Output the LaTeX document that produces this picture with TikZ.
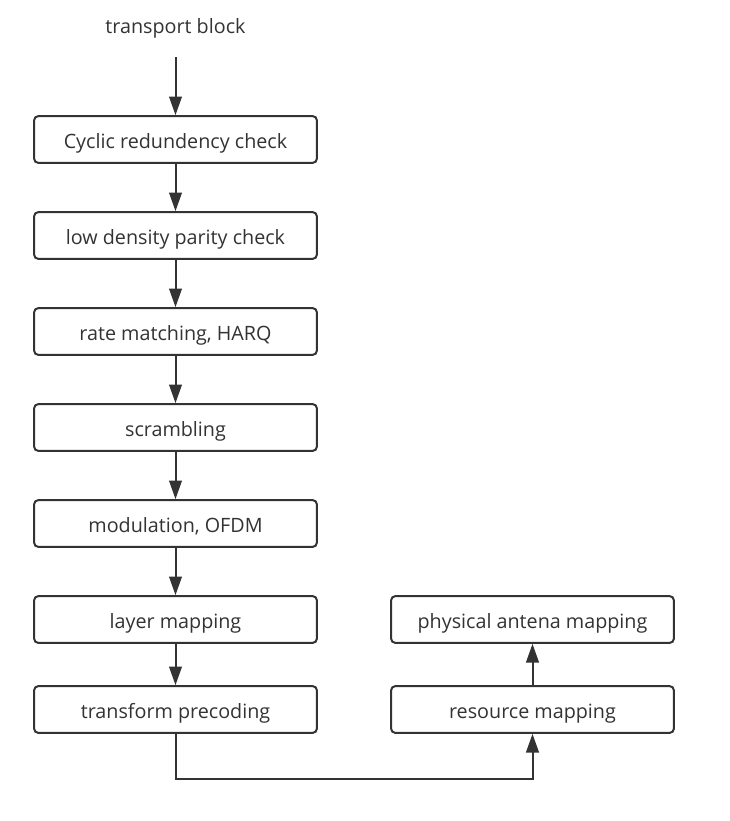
\documentclass[tikz,border=0pt]{standalone}
\usepackage{fontspec}
\setmainfont{Open Sans}
\usetikzlibrary{arrows.meta,positioning}
\definecolor{linegray}{RGB}{51,51,51}
\tikzset{
  label/.style={text=linegray, font=\fontsize{14.8}{17}\selectfont,
    text height=14pt, text depth=1.2pt},
  stage/.style={label, draw=linegray, line width=1.5pt, rounded corners=3pt, fill=white,
    minimum width=212pt, minimum height=35pt, inner sep=0pt},
  flow/.style={draw=linegray, line width=1.5pt,
    -{Triangle[length=14pt,width=9.5pt]}}
}
\begin{document}
\begin{tikzpicture}[x=0.75pt,y=0.75pt,yscale=-1]
%set diagram left start at 0, and has height of 821
\useasboundingbox (0,0) rectangle (729,821);

% Text Node
\node (tb) at (175.5,24.5) [label] {transport block};
\coordinate (tbout) at (175.5,57);

% left column
\node (crc) at (175.5,139.5) [stage] {Cyclic redundency check};
\node (ldpc) at (175.5,235.5) [stage] {low density parity check};
\node (rm) at (175.5,331.5) [stage] {rate matching, HARQ};
\node (scr) at (175.5,427.5) [stage] {scrambling};
\node (mod) at (175.5,523.5) [stage] {modulation, OFDM};
\node (lm) at (175.5,619.5) [stage] {layer mapping};
\node (tp) at (175.5,709.5) [stage] {transform precoding};

% right column
\node (pam) at (532.5,619.5) [stage] {physical antena mapping};
\node (res) at (532.5,709.5) [stage] {resource mapping};

% connectors
\draw [flow] (tbout) -- (crc);
\draw [flow] (crc) -- (ldpc);
\draw [flow] (ldpc) -- (rm);
\draw [flow] (rm) -- (scr);
\draw [flow] (scr) -- (mod);
\draw [flow] (mod) -- (lm);
\draw [flow] (lm) -- (tp);
\draw [flow] (tp.south) -- ++(0,45) -| (res.south);
\draw [flow] (res) -- (pam);

\end{tikzpicture}
\end{document}
